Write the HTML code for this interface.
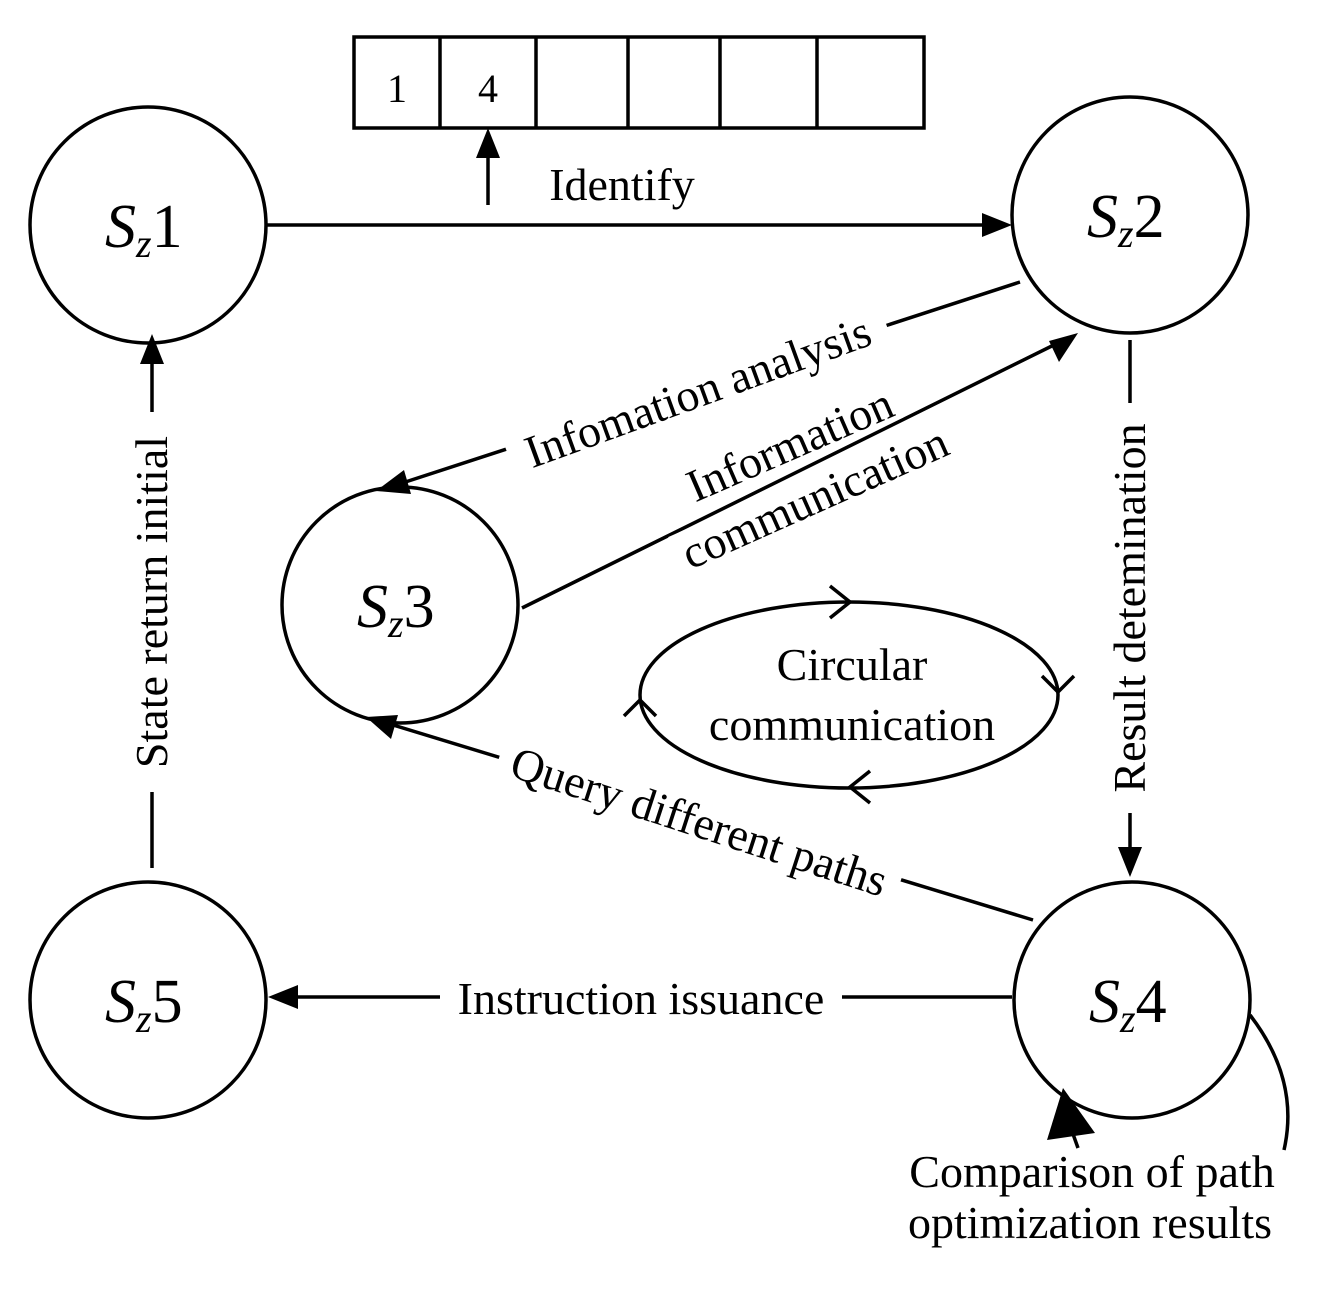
<!DOCTYPE html>
<html><head><meta charset="utf-8"><style>body{margin:0;background:#fff}svg{display:block}text{font-family:"Liberation Serif",serif;fill:#000}</style></head><body>
<svg width="1329" height="1290" viewBox="0 0 1329 1290" xmlns="http://www.w3.org/2000/svg">
<g fill="none" stroke="#000" stroke-width="3.5">
<circle cx="148" cy="225" r="118"/><circle cx="1130" cy="215" r="118"/><circle cx="400" cy="605" r="118"/><circle cx="1132" cy="1000" r="118"/><circle cx="148" cy="1000" r="118"/>
<rect x="354" y="37" width="570" height="91"/>
<path d="M440,37V128M536,37V128M628,37V128M720,37V128M817,37V128"/>
<ellipse cx="849" cy="695" rx="209" ry="93"/>
<path d="M830,586L850,602L830,618M1042,676L1058,692L1074,676M870,771L850,787L870,803M624,716L640,700L656,716"/>
<path d="M1250,1015 Q1300,1080 1284,1150"/>
</g>
<g stroke="#000" stroke-width="3.5" fill="none">
<line x1="266" y1="225" x2="1000" y2="225"/>
<line x1="488" y1="205" x2="488" y2="140"/>
<line x1="1020" y1="282" x2="390" y2="487"/>
<line x1="522" y1="608" x2="1066" y2="339"/>
<line x1="1130" y1="340" x2="1130" y2="868"/>
<line x1="1033" y1="920" x2="380" y2="721"/>
<line x1="1012" y1="997" x2="280" y2="997"/>
<line x1="152" y1="868" x2="152" y2="346"/>
<line x1="1078" y1="1148" x2="1068" y2="1120"/>
</g>
<g fill="#000">
<path d="M1012,225 L982,213 L982,237z"/>
<path d="M488,128 L476,158 L500,158z"/>
<path d="M376,491 L404,470 L411,494z"/>
<path d="M1078,333 L1049,341 L1059,362z"/>
<path d="M1130,877 L1118,847 L1142,847z"/>
<path d="M366,717 L398,715 L391,739z"/>
<path d="M268,997 L298,985 L298,1009z"/>
<path d="M152,334 L140,364 L164,364z"/>
<path d="M1063,1088 L1047,1140 L1095,1133z"/>
</g>
<g font-size="40">
<text x="397" y="102" text-anchor="middle">1</text>
<text x="488" y="102" text-anchor="middle">4</text>
</g>
<g font-size="46" text-anchor="middle">
<text x="622" y="200">Identify</text>
<text x="1092" y="1187">Comparison of path</text>
<text x="1090" y="1238">optimization results</text>
<rect x="440" y="975" width="402" height="44" fill="#fff"/>
<text x="641" y="1014">Instruction issuance</text>
<text x="852" y="680">Circular</text>
<text x="852" y="740">communication</text>
<g transform="translate(698,392) rotate(-20)"><rect x="-200" y="-24" width="400" height="46" fill="#fff"/><text y="15">Infomation analysis</text></g>
<g transform="translate(790,445) rotate(-23.5)"><rect x="-115" y="-24" width="230" height="44" fill="#fff"/><text y="15">Information</text></g>
<g transform="translate(815,498) rotate(-24)"><rect x="-150" y="-24" width="300" height="46" fill="#fff"/><text y="15">communication</text></g>
<g transform="translate(699,822) rotate(18)"><rect x="-210" y="-24" width="420" height="46" fill="#fff"/><text y="15">Query different paths</text></g>
<g transform="translate(1130,608) rotate(-90)"><rect x="-205" y="-24" width="410" height="46" fill="#fff"/><text y="15">Result detemination</text></g>
<g transform="translate(152,602) rotate(-90)"><rect x="-190" y="-24" width="380" height="46" fill="#fff"/><text y="15">State return initial</text></g>
</g>
<g font-size="62">
<text x="105" y="247"><tspan font-style="italic">S</tspan><tspan font-style="italic" font-size="40" dy="10">z</tspan><tspan dy="-10">1</tspan></text>
<text x="1087" y="237"><tspan font-style="italic">S</tspan><tspan font-style="italic" font-size="40" dy="10">z</tspan><tspan dy="-10">2</tspan></text>
<text x="357" y="627"><tspan font-style="italic">S</tspan><tspan font-style="italic" font-size="40" dy="10">z</tspan><tspan dy="-10">3</tspan></text>
<text x="1089" y="1022"><tspan font-style="italic">S</tspan><tspan font-style="italic" font-size="40" dy="10">z</tspan><tspan dy="-10">4</tspan></text>
<text x="105" y="1022"><tspan font-style="italic">S</tspan><tspan font-style="italic" font-size="40" dy="10">z</tspan><tspan dy="-10">5</tspan></text>
</g>
</svg>
</body></html>
